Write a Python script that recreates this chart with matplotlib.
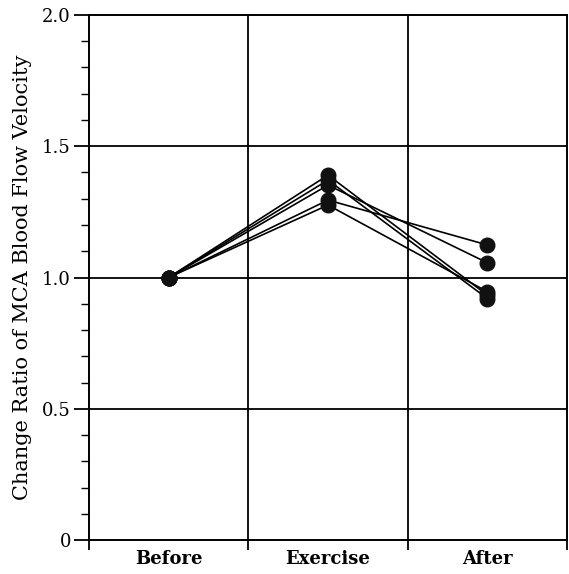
import matplotlib
matplotlib.use("Agg")
import matplotlib.pyplot as plt
from matplotlib.ticker import MultipleLocator, FixedLocator, NullFormatter, FixedFormatter

categories = ["Before", "Exercise", "After"]
subject_1 = [1.0, 1.390, 0.933]
subject_2 = [1.0, 1.371, 0.920]
subject_3 = [1.0, 1.352, 1.056]
subject_4 = [1.0, 1.295, 1.124]
subject_5 = [1.0, 1.276, 0.946]
series = [subject_1, subject_2, subject_3, subject_4, subject_5]
yticks = [0, 0.5, 1.0, 1.5, 2.0]
ytick_labels = ["0", "0.5", "1.0", "1.5", "2.0"]

fig = plt.figure(figsize=(5.69, 5.74), dpi=100)
ax = fig.add_axes([0.1564, 0.0592, 0.8401, 0.9147])

xpos = [i + 0.5 for i in range(len(categories))]
for s in series:
    ax.plot(xpos, s, color="black", lw=1.2, marker="o", markersize=10.5,
            markerfacecolor="#111111", markeredgecolor="#111111", zorder=3)

ax.set_xlim(0, 3)
ax.set_ylim(0, 2.0)

for gx in [1, 2]:
    ax.axvline(gx, color="black", lw=1.3, zorder=1)
for gy in [0.5, 1.0, 1.5]:
    ax.axhline(gy, color="black", lw=1.3, zorder=1)

for sp in ax.spines.values():
    sp.set_linewidth(1.4)

ax.xaxis.set_major_locator(FixedLocator([0, 1, 2, 3]))
ax.xaxis.set_major_formatter(NullFormatter())
ax.xaxis.set_minor_locator(FixedLocator(xpos))
ax.xaxis.set_minor_formatter(FixedFormatter(categories))
ax.tick_params(axis="x", which="major", direction="out", length=7, width=1.3)
ax.tick_params(axis="x", which="minor", length=0, pad=7)
for lab in ax.xaxis.get_minorticklabels():
    lab.set_fontfamily("DejaVu Serif")
    lab.set_fontweight("bold")
    lab.set_fontsize(13)

ax.yaxis.set_major_locator(FixedLocator(yticks))
ax.yaxis.set_major_formatter(FixedFormatter(ytick_labels))
ax.yaxis.set_minor_locator(MultipleLocator(0.1))
ax.tick_params(axis="y", which="major", direction="out", length=11, width=1.3, pad=2,
               labelsize=13)
ax.tick_params(axis="y", which="minor", direction="out", length=6, width=1.0)
for lab in ax.get_yticklabels():
    lab.set_fontfamily("DejaVu Serif")

ax.set_ylabel("Change Ratio of MCA Blood Flow Velocity", fontsize=15,
              family="DejaVu Serif", labelpad=7)

fig.savefig("out.png", dpi=100)
